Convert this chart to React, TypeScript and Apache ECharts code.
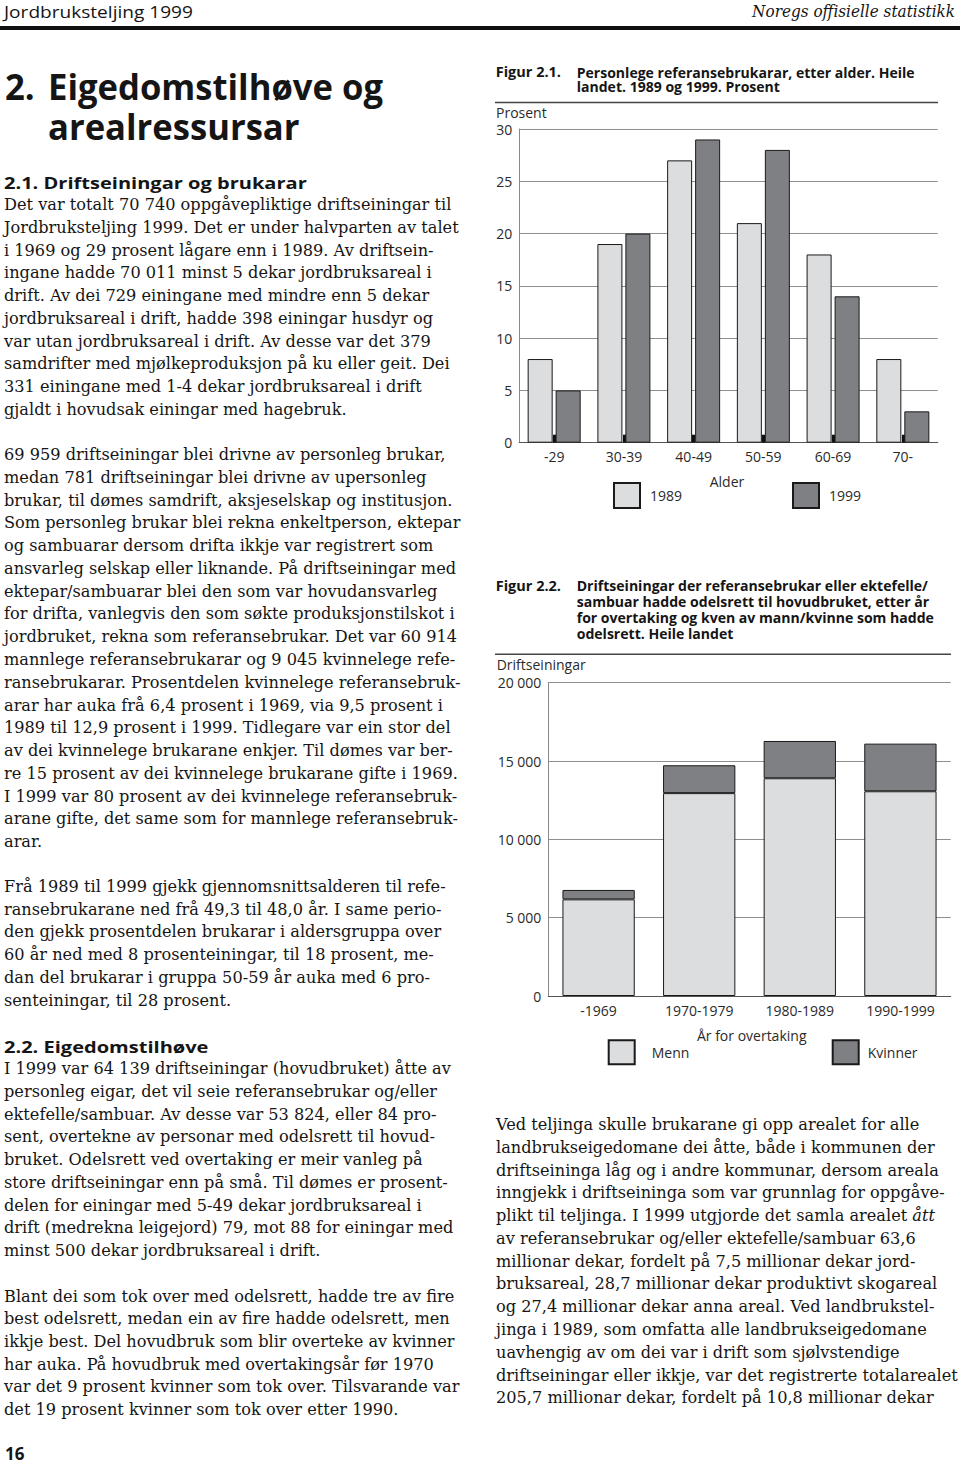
import React, { useEffect, useRef, useMemo } from 'react';
import * as echarts from 'echarts';

// ---------------- DATA ----------------
const ageCategories = ['-29', '30-39', '40-49', '50-59', '60-69', '70-'];
const share1989 = [8, 19, 27, 21, 18, 8];
const share1999 = [5, 20, 29, 28, 14, 3];

const takeoverCategories = ['-1969', '1970-1979', '1980-1989', '1990-1999'];
const menn = [6170, 12950, 13900, 13070];
const kvinner = [600, 1780, 2380, 3040];

// ---------------- TEXT ----------------
const para1 = [
  'Det var totalt 70 740 oppgåvepliktige driftseiningar til',
  'Jordbruksteljing 1999. Det er under halvparten av talet',
  'i 1969 og 29 prosent lågare enn i 1989. Av driftsein-',
  'ingane hadde 70 011 minst 5 dekar jordbruksareal i',
  'drift. Av dei 729 einingane med mindre enn 5 dekar',
  'jordbruksareal i drift, hadde 398 einingar husdyr og',
  'var utan jordbruksareal i drift. Av desse var det 379',
  'samdrifter med mjølkeproduksjon på ku eller geit. Dei',
  '331 einingane med 1-4 dekar jordbruksareal i drift',
  'gjaldt i hovudsak einingar med hagebruk.',
];
const para2 = [
  '69 959 driftseiningar blei drivne av personleg brukar,',
  'medan 781 driftseiningar blei drivne av upersonleg',
  'brukar, til dømes samdrift, aksjeselskap og institusjon.',
  'Som personleg brukar blei rekna enkeltperson, ektepar',
  'og sambuarar dersom drifta ikkje var registrert som',
  'ansvarleg selskap eller liknande. På driftseiningar med',
  'ektepar/sambuarar blei den som var hovudansvarleg',
  'for drifta, vanlegvis den som søkte produksjonstilskot i',
  'jordbruket, rekna som referansebrukar. Det var 60 914',
  'mannlege referansebrukarar og 9 045 kvinnelege refe-',
  'ransebrukarar. Prosentdelen kvinnelege referansebruk-',
  'arar har auka frå 6,4 prosent i 1969, via 9,5 prosent i',
  '1989 til 12,9 prosent i 1999. Tidlegare var ein stor del',
  'av dei kvinnelege brukarane enkjer. Til dømes var ber-',
  're 15 prosent av dei kvinnelege brukarane gifte i 1969.',
  'I 1999 var 80 prosent av dei kvinnelege referansebruk-',
  'arane gifte, det same som for mannlege referansebruk-',
  'arar.',
];
const para3 = [
  'Frå 1989 til 1999 gjekk gjennomsnittsalderen til refe-',
  'ransebrukarane ned frå 49,3 til 48,0 år. I same perio-',
  'den gjekk prosentdelen brukarar i aldersgruppa over',
  '60 år ned med 8 prosenteiningar, til 18 prosent, me-',
  'dan del brukarar i gruppa 50-59 år auka med 6 pro-',
  'senteiningar, til 28 prosent.',
];
const para4 = [
  'I 1999 var 64 139 driftseiningar (hovudbruket) åtte av',
  'personleg eigar, det vil seie referansebrukar og/eller',
  'ektefelle/sambuar. Av desse var 53 824, eller 84 pro-',
  'sent, overtekne av personar med odelsrett til hovud-',
  'bruket. Odelsrett ved overtaking er meir vanleg på',
  'store driftseiningar enn på små. Til dømes er prosent-',
  'delen for einingar med 5-49 dekar jordbruksareal i',
  'drift (medrekna leigejord) 79, mot 88 for einingar med',
  'minst 500 dekar jordbruksareal i drift.',
];
const para5 = [
  'Blant dei som tok over med odelsrett, hadde tre av fire',
  'best odelsrett, medan ein av fire hadde odelsrett, men',
  'ikkje best. Del hovudbruk som blir overteke av kvinner',
  'har auka. På hovudbruk med overtakingsår før 1970',
  'var det 9 prosent kvinner som tok over. Tilsvarande var',
  'det 19 prosent kvinner som tok over etter 1990.',
];
const paraRight = [
  'Ved teljinga skulle brukarane gi opp arealet for alle',
  'landbrukseigedomane dei åtte, både i kommunen der',
  'driftseininga låg og i andre kommunar, dersom areala',
  'inngjekk i driftseininga som var grunnlag for oppgåve-',
  'plikt til teljinga. I 1999 utgjorde det samla arealet |ått',
  'av referansebrukar og/eller ektefelle/sambuar 63,6',
  'millionar dekar, fordelt på 7,5 millionar dekar jord-',
  'bruksareal, 28,7 millionar dekar produktivt skogareal',
  'og 27,4 millionar dekar anna areal. Ved landbrukstel-',
  'jinga i 1989, som omfatta alle landbrukseigedomane',
  'uavhengig av om dei var i drift som sjølvstendige',
  'driftseiningar eller ikkje, var det registrerte totalarealet',
  '205,7 millionar dekar, fordelt på 10,8 millionar dekar',
];

const SERIF = '"DejaVu Serif"';
const SANS = '"Open Sans"';
const INK = '#151515';

let _ctx: CanvasRenderingContext2D | null = null;
function measure(text: string, font: string): number {
  if (!_ctx) _ctx = document.createElement('canvas').getContext('2d');
  _ctx!.font = font;
  return _ctx!.measureText(text).width;
}

const fmtThousands = (v: number) => String(v).replace(/\B(?=(\d{3})+(?!\d))/g, ' ');

function Chart({ option, style }: { option: any; style: React.CSSProperties }) {
  const ref = useRef<HTMLDivElement>(null);
  useEffect(() => {
    const chart = echarts.init(ref.current!, null, { renderer: 'svg' });
    chart.setOption(option);
    return () => chart.dispose();
  }, [option]);
  return <div ref={ref} style={style} />;
}

function SvgText({ x, y, s = 1, size, family, weight = 'normal', italic = false, anchor = 'start', children }: any) {
  return (
    <text
      transform={`translate(${x},${y}) scale(${s},1)`}
      fontFamily={family}
      fontSize={size}
      fontWeight={weight}
      fontStyle={italic ? 'italic' : 'normal'}
      textAnchor={anchor}
      fill={INK}
    >
      {children}
    </text>
  );
}

export default function App() {
  useEffect(() => {
    document.body.style.margin = '0';
  }, []);

  const sc = useMemo(() => {
    const body = 447.7 / measure(para1[0], `17px ${SERIF}`);
    const h21 = 303 / measure('2.1. Driftseiningar og brukarar', `bold 16.5px ${SANS}`);
    const title = 335 / measure('Eigedomstilhøve og', `bold 35px ${SANS}`);
    const header = 189 / measure('Jordbruksteljing 1999', `16.5px ${SANS}`);
    const nos = 203 / measure('Noregs offisielle statistikk', `italic 16px ${SERIF}`);
    const cap1 = 338.3 / measure('Personlege referansebrukarar, etter alder. Heile', `bold 14px ${SANS}`);
    const cap2 = 351.7 / measure('Driftseiningar der referansebrukar eller ektefelle/', `bold 14px ${SANS}`);
    const fig = 65.3 / measure('Figur 2.1.', `bold 14px ${SANS}`);
    return { body, h21, title, header, nos, cap1, cap2, fig };
  }, []);

  const lineStep = 22.75;
  const renderPara = (lines: string[], x: number, y0: number, step = lineStep) =>
    lines.map((l, i) => {
      const parts = l.split('|');
      return (
        <SvgText key={i} x={x} y={y0 + i * step} s={sc.body} size={17} family={SERIF}>
          {parts[0]}
          {parts[1] ? <tspan fontStyle="italic">{parts[1]}</tspan> : null}
        </SvgText>
      );
    });

  const capFont = { fontFamily: SANS, fontWeight: 'bold', fontSize: 14, fill: INK };
  const regFont = { fontFamily: SANS, fontSize: 14, fill: '#2a2a2a' };

  const option1 = useMemo(() => ({
    animation: false,
    textStyle: { fontFamily: SANS },
    grid: { left: 39.3, top: 79, right: 22.3, bottom: 77.3 },
    xAxis: {
      type: 'category',
      data: ageCategories,
      axisLine: { lineStyle: { color: '#555', width: 1.2 } },
      axisTick: { show: true, alignWithLabel: true, inside: true, length: 8, lineStyle: { color: '#111', width: 3 } },
      axisLabel: { fontSize: 14, color: '#2a2a2a', margin: 7 },
    },
    yAxis: {
      type: 'value',
      min: 0,
      max: 30,
      interval: 5,
      axisLine: { show: true, lineStyle: { color: '#8a8a8a', width: 1 } },
      axisTick: { show: false },
      axisLabel: { fontSize: 14, color: '#2a2a2a', margin: 7 },
      splitLine: { lineStyle: { color: '#8f8f8f', width: 1 } },
    },
    legend: [
      {
        data: ['1989'], left: 133, top: 432, padding: 0, icon: 'rect', itemWidth: 26, itemHeight: 25,
        textStyle: { fontSize: 14, color: '#2a2a2a', padding: [0, 0, 0, 5] },
      },
      {
        data: ['1999'], left: 312, top: 432, padding: 0, icon: 'rect', itemWidth: 26, itemHeight: 25,
        textStyle: { fontSize: 14, color: '#2a2a2a', padding: [0, 0, 0, 5] },
      },
    ],
    series: [
      {
        name: '1989', type: 'bar', data: share1989, barWidth: 25, barGap: '12%',
        itemStyle: { color: '#dcdddf', borderColor: '#1a1a1a', borderWidth: 1 },
      },
      {
        name: '1999', type: 'bar', data: share1999, barWidth: 25, barGap: '12%',
        itemStyle: { color: '#7f8083', borderColor: '#1a1a1a', borderWidth: 1 },
      },
    ],
    graphic: [
      { type: 'text', x: 15.7, y: 29, scaleX: sc.fig, style: { ...capFont, text: 'Figur 2.1.', verticalAlign: 'bottom' } },
      { type: 'text', x: 96.7, y: 29, scaleX: sc.cap1, style: { ...capFont, text: 'Personlege referansebrukarar, etter alder. Heile', verticalAlign: 'bottom' } },
      { type: 'text', x: 96.7, y: 43.5, scaleX: sc.cap1, style: { ...capFont, text: 'landet. 1989 og 1999. Prosent', verticalAlign: 'bottom' } },
      { type: 'line', shape: { x1: 15, y1: 52.5, x2: 458, y2: 52.5 }, style: { stroke: '#444', lineWidth: 1.5 } },
      { type: 'text', x: 16, y: 62.7, style: { ...regFont, text: 'Prosent', verticalAlign: 'middle' } },
      { type: 'text', x: 247, y: 431, style: { ...regFont, text: 'Alder', align: 'center', verticalAlign: 'middle' } },
    ],
  }), [sc]);

  const option2 = useMemo(() => ({
    animation: false,
    textStyle: { fontFamily: SANS },
    grid: { left: 68.3, top: 112.7, right: 9.3, bottom: 84 },
    xAxis: {
      type: 'category',
      data: takeoverCategories,
      axisLine: { lineStyle: { color: '#555', width: 1.2 } },
      axisTick: { show: false },
      axisLabel: { fontSize: 14, color: '#2a2a2a', margin: 7 },
    },
    yAxis: {
      type: 'value',
      min: 0,
      max: 20000,
      interval: 5000,
      axisLine: { show: true, lineStyle: { color: '#8a8a8a', width: 1 } },
      axisTick: { show: false },
      axisLabel: { fontSize: 14, color: '#2a2a2a', margin: 7, formatter: fmtThousands },
      splitLine: { lineStyle: { color: '#8f8f8f', width: 1 } },
    },
    legend: [
      {
        data: ['Menn'], left: 127.7, top: 469.3, padding: 0, icon: 'rect', itemWidth: 26, itemHeight: 24,
        textStyle: { fontSize: 14, color: '#2a2a2a', padding: [0, 0, 0, 12] },
      },
      {
        data: ['Kvinner'], left: 351.7, top: 469.3, padding: 0, icon: 'rect', itemWidth: 26, itemHeight: 24,
        textStyle: { fontSize: 14, color: '#2a2a2a', padding: [0, 0, 0, 4] },
      },
    ],
    series: [
      {
        name: 'Menn', type: 'bar', stack: 'a', data: menn, barWidth: 72.3,
        itemStyle: { color: '#dcdddf', borderColor: '#1a1a1a', borderWidth: 1 },
      },
      {
        name: 'Kvinner', type: 'bar', stack: 'a', data: kvinner, barWidth: 72.3,
        itemStyle: { color: '#7f8083', borderColor: '#1a1a1a', borderWidth: 1 },
      },
    ],
    graphic: [
      { type: 'text', x: 15.7, y: 22.5, scaleX: sc.fig, style: { ...capFont, text: 'Figur 2.2.', verticalAlign: 'bottom' } },
      { type: 'text', x: 96.7, y: 22.5, scaleX: sc.cap2, style: { ...capFont, text: 'Driftseiningar der referansebrukar eller ektefelle/', verticalAlign: 'bottom' } },
      { type: 'text', x: 96.7, y: 38.5, scaleX: sc.cap2, style: { ...capFont, text: 'sambuar hadde odelsrett til hovudbruket, etter år', verticalAlign: 'bottom' } },
      { type: 'text', x: 96.7, y: 54.3, scaleX: sc.cap2, style: { ...capFont, text: 'for overtaking og kven av mann/kvinne som hadde', verticalAlign: 'bottom' } },
      { type: 'text', x: 96.7, y: 70.2, scaleX: sc.cap2, style: { ...capFont, text: 'odelsrett. Heile landet', verticalAlign: 'bottom' } },
      { type: 'line', shape: { x1: 15, y1: 84.3, x2: 471, y2: 84.3 }, style: { stroke: '#444', lineWidth: 1.5 } },
      { type: 'text', x: 16.7, y: 94.3, style: { ...regFont, text: 'Driftseiningar', verticalAlign: 'middle' } },
      { type: 'text', x: 271.7, y: 465, style: { ...regFont, text: 'År for overtaking', align: 'center', verticalAlign: 'middle' } },
    ],
  }), [sc]);

  const titleStyle: React.CSSProperties = {
    position: 'absolute',
    fontFamily: SANS,
    fontWeight: 'bold',
    fontSize: 35,
    lineHeight: '40px',
    color: INK,
    whiteSpace: 'nowrap',
    transform: `scaleX(${sc.title})`,
    transformOrigin: 'left top',
    margin: 0,
  };

  return (
    <div style={{ position: 'absolute', left: 0, top: 0, width: 960, height: 1465, background: '#fff', overflow: 'hidden' }}>
      <svg width={960} height={1465} style={{ position: 'absolute', left: 0, top: 0 }}>
        <SvgText x={4} y={18} s={sc.header} size={16.5} family={SANS}>Jordbruksteljing 1999</SvgText>
        <SvgText x={955} y={17} s={sc.nos} size={16} family={SERIF} italic anchor="end">Noregs offisielle statistikk</SvgText>
        <rect x={0} y={26} width={960} height={4} fill="#111" />
        <SvgText x={4} y={189.3} s={sc.h21} size={16.5} family={SANS} weight="bold">2.1. Driftseiningar og brukarar</SvgText>
        {renderPara(para1, 4, 210)}
        {renderPara(para2, 4, 460, 22.78)}
        {renderPara(para3, 4, 891.7, 22.85)}
        <SvgText x={4} y={1052.7} s={sc.h21} size={16.5} family={SANS} weight="bold">2.2. Eigedomstilhøve</SvgText>
        {renderPara(para4, 4, 1074.3, 22.71)}
        {renderPara(para5, 4, 1301.7, 22.66)}
        {renderPara(paraRight, 496, 1130, 22.78)}
        <SvgText x={5} y={1460} s={1} size={17} family={SANS} weight="bold">16</SvgText>
      </svg>
      <div style={{ ...titleStyle, left: 5, top: 67 }}>2.</div>
      <div style={{ ...titleStyle, left: 48, top: 67 }}>
        Eigedomstilhøve og
        <br />
        arealressursar
      </div>
      <Chart option={option1} style={{ position: 'absolute', left: 480, top: 50, width: 480, height: 470 }} />
      <Chart option={option2} style={{ position: 'absolute', left: 480, top: 570, width: 480, height: 510 }} />
    </div>
  );
}
